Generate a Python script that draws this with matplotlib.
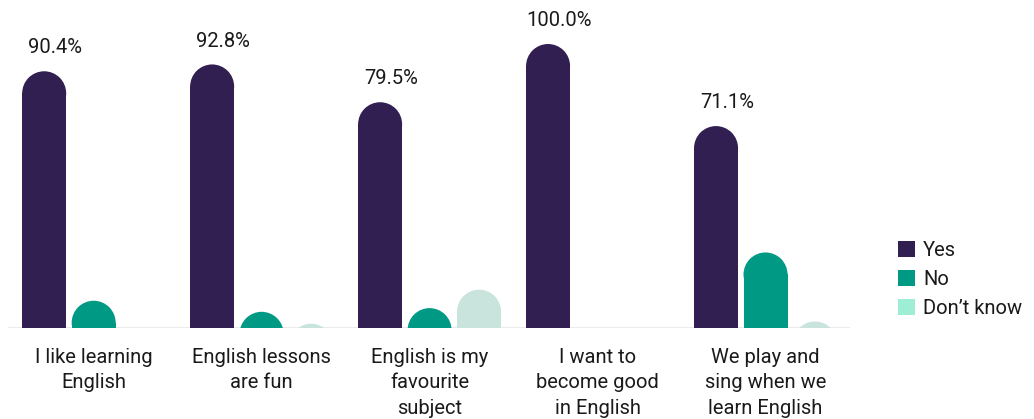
import matplotlib
matplotlib.use("Agg")
import matplotlib.pyplot as plt
from matplotlib.patches import Rectangle, Ellipse, Patch

# Survey answers (% of pupils)
categories = [
    "I like learning\nEnglish",
    "English lessons\nare fun",
    "English is my\nfavourite\nsubject",
    "I want to\nbecome good\nin English",
    "We play and\nsing when we\nlearn English",
]
yes_pct = [90.4, 92.8, 79.5, 100.0, 71.1]
no_pct = [9.6, 5.7, 7.0, 0.0, 26.6]
dont_know_pct = [0.0, 1.5, 13.5, 0.0, 2.3]
series_names = ["Yes", "No", "Don\u2019t know"]

bar_colors = ["#311f51", "#009a84", "#c9e4dc"]
legend_colors = ["#311f51", "#009a84", "#9deed4"]
text_color = "#1a1a1a"

plt.rcParams["font.family"] = ["Roboto", "DejaVu Sans"]

W, H, DPI = 1034, 419, 100
fig = plt.figure(figsize=(W / DPI, H / DPI), dpi=DPI)
ax_left, ax_right = 8, 850
ax_bottom, ax_top = H - 328, H - 44
ax = fig.add_axes([ax_left / W, ax_bottom / H, (ax_right - ax_left) / W, (ax_top - ax_bottom) / H])

xmin, xmax = -0.51, 4.503
ymin, ymax = 0, 100
ax.set_xlim(xmin, xmax)
ax.set_ylim(ymin, ymax)

bar_w = 0.262
step = 0.2946
# pixel scale, used to give bars a circular (not elliptical) rounded top
px_per_x = (ax_right - ax_left) / (xmax - xmin)
px_per_y = (ax_top - ax_bottom) / (ymax - ymin)
rx = bar_w / 2
ry = rx * px_per_x / px_per_y


def rounded_bar(xc, value, color):
    if value <= 0:
        return
    top_c = value - ry
    ax.add_patch(Rectangle((xc - rx, -50), bar_w, top_c + 50, facecolor=color,
                           edgecolor="none", zorder=2))
    ax.add_patch(Ellipse((xc, top_c), 2 * rx, 2 * ry, facecolor=color,
                         edgecolor="none", zorder=2))


series = [yes_pct, no_pct, dont_know_pct]
for i in range(len(categories)):
    for j, vals in enumerate(series):
        rounded_bar(i + (j - 1) * step, vals[i], bar_colors[j])
    ax.annotate(f"{yes_pct[i]:.1f}%", xy=(i - step, yes_pct[i]), xytext=(8, 10),
                textcoords="offset points", ha="center", va="bottom",
                fontsize=14.5, color=text_color, annotation_clip=False)

ax.axhline(0, color="#ebebeb", lw=2.2, zorder=1)

ax.set_xticks(range(len(categories)))
ax.set_xticklabels(categories, fontsize=14.5, color=text_color, linespacing=1.42)
ax.tick_params(axis="x", length=0, pad=14.5)
ax.set_yticks([])
for s in ax.spines.values():
    s.set_visible(False)

handles = [Patch(facecolor=c, edgecolor="none") for c in legend_colors]
fig.legend(handles, series_names, loc="upper left",
           bbox_to_anchor=(898 / W, 1 - 241 / H), frameon=False,
           fontsize=14.5, handlelength=0.85, handleheight=0.85,
           handletextpad=0.4, labelspacing=0.5, borderpad=0,
           borderaxespad=0, labelcolor=text_color)

fig.savefig("out.png", dpi=DPI, facecolor="white")
